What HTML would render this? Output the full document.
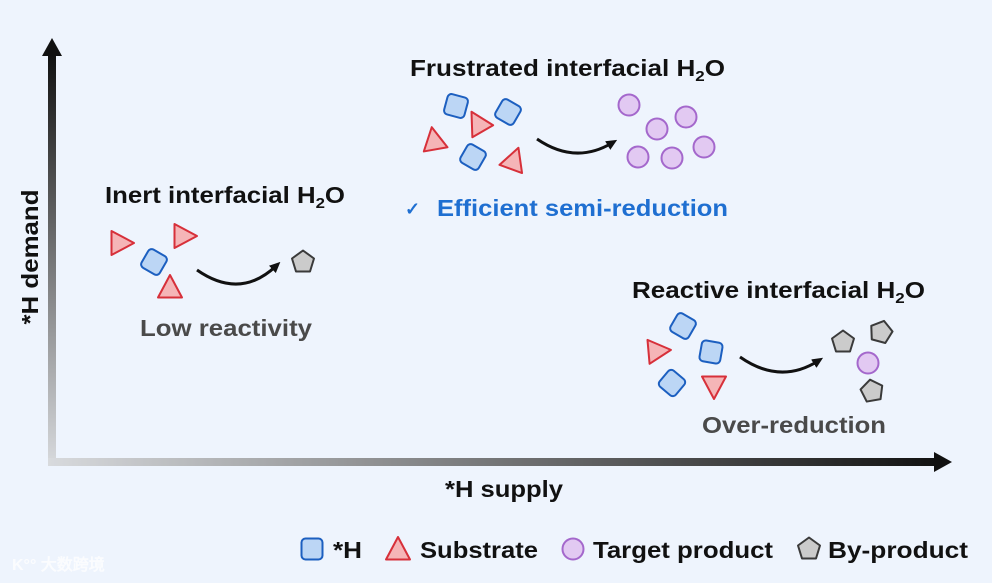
<!DOCTYPE html>
<html><head><meta charset="utf-8"><style>
html,body{margin:0;padding:0;background:#fff}
svg{display:block}
text{font-family:"Liberation Sans",Arial,sans-serif;font-weight:bold}
</style></head><body>
<svg width="992" height="583" viewBox="0 0 992 583" xmlns="http://www.w3.org/2000/svg">
<defs>
<linearGradient id="gv" x1="0" y1="1" x2="0" y2="0"><stop offset="0" stop-color="#d8dadd"/><stop offset="1" stop-color="#111"/></linearGradient>
<linearGradient id="gh" x1="0" y1="0" x2="1" y2="0"><stop offset="0" stop-color="#d8dadd"/><stop offset="1" stop-color="#111"/></linearGradient>
<g id="sq"><rect x="-10.5" y="-10.5" width="21" height="21" rx="4" fill="#bcd6f5" stroke="#1c5fc0" stroke-width="2"/></g>
<g id="tr"><polygon points="0,-13 12,9.5 -12,9.5" fill="#f5b5b7" stroke="#d7303a" stroke-width="2" stroke-linejoin="round"/></g>
<g id="ci"><circle r="10.5" fill="#e2c9f2" stroke="#a468cc" stroke-width="2"/></g>
<g id="pe"><polygon points="0,-11.5 11,-3.5 7,9.5 -7,9.5 -11,-3.5" fill="#cbcbcb" stroke="#3a3a3a" stroke-width="2" stroke-linejoin="round"/></g>
<marker id="ah" markerWidth="11" markerHeight="10" refX="5" refY="5" orient="auto" markerUnits="userSpaceOnUse"><path d="M0,0 L11,5 L0,10 z" fill="#111"/></marker>
</defs>
<rect width="992" height="583" fill="#eef4fd"/>
<!-- axes -->
<rect x="48" y="54" width="8" height="412" fill="url(#gv)"/>
<polygon points="52,38 42,56 62,56" fill="#111"/>
<rect x="48" y="458" width="892" height="8" fill="url(#gh)"/>
<polygon points="952,462 934,452 934,472" fill="#111"/>
<text x="0" y="0" transform="translate(38,257) rotate(-90)" text-anchor="middle" font-size="23" fill="#111" textLength="135" lengthAdjust="spacingAndGlyphs">*H demand</text>
<text x="445" y="497" font-size="23" fill="#111" textLength="118" lengthAdjust="spacingAndGlyphs">*H supply</text>

<!-- Inert -->
<text x="105" y="203" font-size="23" fill="#111" textLength="240" lengthAdjust="spacingAndGlyphs">Inert interfacial H<tspan font-size="15" dy="5">2</tspan><tspan dy="-5">O</tspan></text>
<use href="#tr" transform="translate(121,243) rotate(90)"/>
<use href="#tr" transform="translate(184,236) rotate(90)"/>
<use href="#tr" transform="translate(170,288)"/>
<use href="#sq" transform="translate(154,262) rotate(30)"/>
<path d="M197,270 Q240,300 276,266" fill="none" stroke="#111" stroke-width="3" marker-end="url(#ah)"/>
<use href="#pe" transform="translate(303,262)"/>
<text x="140" y="336" font-size="23" fill="#4a4a4a" textLength="172" lengthAdjust="spacingAndGlyphs">Low reactivity</text>

<!-- Frustrated -->
<text x="410" y="76" font-size="23" fill="#111" textLength="315" lengthAdjust="spacingAndGlyphs">Frustrated interfacial H<tspan font-size="15" dy="5">2</tspan><tspan dy="-5">O</tspan></text>
<use href="#sq" transform="translate(456,106) rotate(15)"/>
<use href="#sq" transform="translate(508,112) rotate(30)"/>
<use href="#sq" transform="translate(473,157) rotate(30)"/>
<use href="#tr" transform="translate(478,123) rotate(-30)"/>
<use href="#tr" transform="translate(434,140) rotate(-10)"/>
<use href="#tr" transform="translate(514,160) rotate(20)"/>
<path d="M537,139 Q575,165 612,143" fill="none" stroke="#111" stroke-width="3" marker-end="url(#ah)"/>
<use href="#ci" transform="translate(629,105)"/>
<use href="#ci" transform="translate(686,117)"/>
<use href="#ci" transform="translate(657,129)"/>
<use href="#ci" transform="translate(704,147)"/>
<use href="#ci" transform="translate(638,157)"/>
<use href="#ci" transform="translate(672,158)"/>
<text x="405" y="215" font-weight="normal" font-family="DejaVu Sans" font-size="18" fill="#1f6fd1">✓</text>
<text x="437" y="216" font-size="23" fill="#1f6fd1" textLength="291" lengthAdjust="spacingAndGlyphs">Efficient semi-reduction</text>

<!-- Reactive -->
<text x="632" y="298" font-size="23" fill="#111" textLength="293" lengthAdjust="spacingAndGlyphs">Reactive interfacial H<tspan font-size="15" dy="5">2</tspan><tspan dy="-5">O</tspan></text>
<use href="#sq" transform="translate(683,326) rotate(30)"/>
<use href="#sq" transform="translate(711,352) rotate(10)"/>
<use href="#sq" transform="translate(672,383) rotate(40)"/>
<use href="#tr" transform="translate(658,351) rotate(85)"/>
<use href="#tr" transform="translate(714,386) rotate(180)"/>
<path d="M740,357 Q780,385 818,361" fill="none" stroke="#111" stroke-width="3" marker-end="url(#ah)"/>
<use href="#pe" transform="translate(843,342)"/>
<use href="#pe" transform="translate(881,332) rotate(15)"/>
<use href="#ci" transform="translate(868,363)"/>
<use href="#pe" transform="translate(872,391) rotate(-10)"/>
<text x="702" y="433" font-size="23" fill="#4a4a4a" textLength="184" lengthAdjust="spacingAndGlyphs">Over-reduction</text>

<!-- legend -->
<use href="#sq" transform="translate(312,549)"/>
<text x="333" y="558" font-size="23" fill="#111" textLength="29" lengthAdjust="spacingAndGlyphs">*H</text>
<use href="#tr" transform="translate(398,550)"/>
<text x="420" y="558" font-size="23" fill="#111" textLength="118" lengthAdjust="spacingAndGlyphs">Substrate</text>
<use href="#ci" transform="translate(573,549)"/>
<text x="593" y="558" font-size="23" fill="#111" textLength="180" lengthAdjust="spacingAndGlyphs">Target product</text>
<use href="#pe" transform="translate(809,549)"/>
<text x="828" y="558" font-size="23" fill="#111" textLength="140" lengthAdjust="spacingAndGlyphs">By-product</text>
<text x="12" y="570" font-size="16" fill="#ffffff" opacity="0.8" font-family="'Liberation Sans','Noto Sans CJK SC',sans-serif">K°° 大数跨境</text>
</svg>
</body></html>
